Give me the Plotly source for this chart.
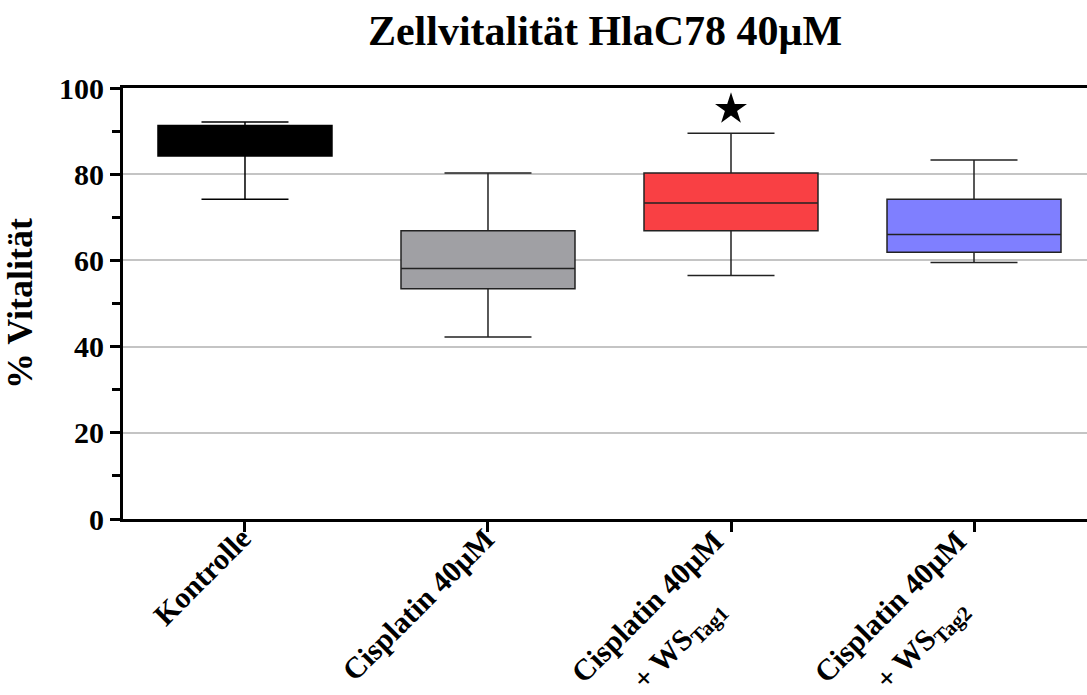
import plotly.graph_objects as go

categories = ["Kontrolle", "Cisplatin 40μM", "Cisplatin 40μM + WS Tag1", "Cisplatin 40μM + WS Tag2"]
label_line1 = ["Kontrolle", "Cisplatin 40μM", "Cisplatin 40μM", "Cisplatin 40μM"]
label_line2 = ["", "", "+ WS<sub>Tag1</sub>", "+ WS<sub>Tag2</sub>"]
upper_whisker = [92.1, 80.3, 89.5, 83.3]
q3_values = [91.3, 66.9, 80.3, 74.2]
median_values = [88.5, 58.1, 73.3, 66.0]
q1_values = [84.2, 53.4, 66.9, 61.9]
lower_whisker = [74.2, 42.2, 56.5, 59.5]
fill_colors = ["#000000", "#a0a0a4", "#f94044", "#7f7fff"]
line_colors = ["#000000", "#222222", "#222222", "#222222"]

star_category = [categories[2]]
star_value = [95.1]

FONT = "Liberation Serif"

fig = go.Figure()
for i, cat in enumerate(categories):
    fig.add_trace(go.Box(
        x=[cat],
        q1=[q1_values[i]], median=[median_values[i]], q3=[q3_values[i]],
        lowerfence=[lower_whisker[i]], upperfence=[upper_whisker[i]],
        fillcolor=fill_colors[i],
        line=dict(color=line_colors[i], width=1.5),
        width=0.716, whiskerwidth=0.5,
        boxpoints=False, showlegend=False, hoverinfo="skip",
    ))

fig.add_trace(go.Scatter(
    x=star_category, y=star_value, mode="markers",
    marker=dict(symbol="star", size=24, color="black"),
    showlegend=False, hoverinfo="skip",
))

# rotated category labels (two lines where needed)
lab_font = dict(size=30, family=FONT, color="black", weight="bold")
for i, cat in enumerate(categories):
    two = label_line2[i] != ""
    fig.add_annotation(
        x=cat, xref="x", y=0, yref="paper",
        text=label_line1[i], textangle=-45, showarrow=False,
        xanchor="right", yanchor="top",
        xshift=(1 if two else 15), yshift=(-2 if two else 0),
        font=lab_font,
    )
    if two:
        fig.add_annotation(
            x=cat, xref="x", y=0, yref="paper",
            text=label_line2[i], textangle=-45, showarrow=False,
            xanchor="right", yanchor="top",
            xshift=5, yshift=-69,
            font=lab_font,
        )

fig.update_layout(
    width=1087, height=695,
    margin=dict(l=123, r=0, t=88, b=176),
    paper_bgcolor="white", plot_bgcolor="white",
    boxmode="overlay",
    font=dict(family=FONT, color="black"),
    title=dict(text="<b>Zellvitalität HlaC78 40μM</b>", x=0.5, xref="paper",
               y=0.957, yref="container", yanchor="middle", xanchor="center",
               font=dict(size=42, family=FONT, color="black")),
)

fig.update_xaxes(
    type="category", categoryorder="array", categoryarray=categories,
    range=[-0.502, 3.465], automargin=False,
    showline=True, linewidth=3, linecolor="black", mirror=True,
    ticks="outside", ticklen=10, tickwidth=3, tickcolor="black",
    showticklabels=False, showgrid=False,
)

fig.update_yaxes(
    range=[0, 100], tickvals=[0, 20, 40, 60, 80, 100], automargin=False,
    showline=True, linewidth=3, linecolor="black",
    ticks="outside", ticklen=10, tickwidth=3, tickcolor="black",
    minor=dict(dtick=10, ticks="outside", ticklen=8, tickwidth=3, tickcolor="black", showgrid=False),
    showgrid=True, gridcolor="#c4c4c4", gridwidth=1.5, zeroline=False,
    tickfont=dict(size=30, family=FONT, color="black", weight="bold"),
    title=dict(text="<b>% Vitalität</b>", standoff=16,
               font=dict(size=36, family=FONT, color="black")),
)

fig.write_html("out.html", config={"displayModeBar": False},
               post_script="document.body.style.margin='0';document.body.style.overflow='hidden';")
